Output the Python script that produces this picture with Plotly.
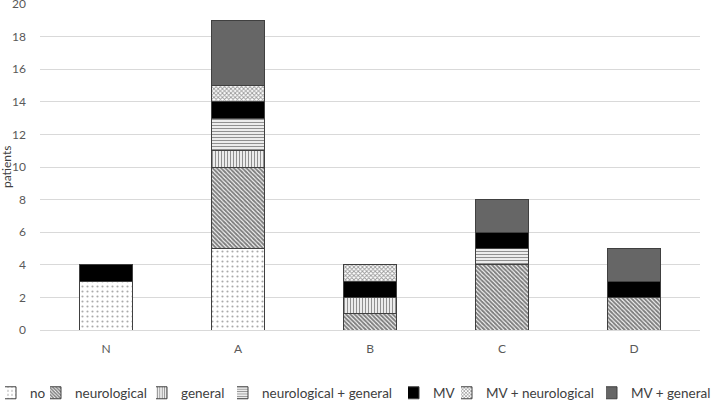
import plotly.graph_objects as go

categories = ["N", "A", "B", "C", "D"]
no = [3, 5, 0, 0, 0]
neurological = [0, 5, 1, 4, 2]
general = [0, 1, 1, 0, 0]
neuro_general = [0, 2, 0, 1, 0]
mv = [1, 1, 1, 1, 1]
mv_neuro = [0, 1, 1, 0, 0]
mv_general = [0, 4, 0, 2, 2]

# legend entry left positions (px)
legend_x = [5, 50, 156, 237, 408, 461, 606]

series = [
    ("no", no, dict(shape=".", fgcolor="#555555", bgcolor="white", size=5, solidity=0.15), "white"),
    ("neurological", neurological, dict(shape="\\", fgcolor="#000000", bgcolor="white", size=3, solidity=0.65), "white"),
    ("general", general, dict(shape="|", fgcolor="#222222", bgcolor="white", size=3, solidity=0.45), "white"),
    ("neurological + general", neuro_general, dict(shape="-", fgcolor="#222222", bgcolor="white", size=3, solidity=0.45), "white"),
    ("MV", mv, None, "black"),
    ("MV + neurological", mv_neuro, dict(shape="x", fgcolor="#333333", bgcolor="white", size=3, solidity=0.5), "white"),
    ("MV + general", mv_general, None, "#666666"),
]

W, H = 714, 400
L, R, T, B = 40, 14, 4, 70
fig = go.Figure()
legend_layout = {}
for i, (name, vals, pat, color) in enumerate(series):
    marker = dict(color=color, line=dict(color="#404040", width=1))
    if pat is not None:
        marker["pattern"] = pat
    lg = "legend" if i == 0 else f"legend{i+1}"
    fig.add_trace(go.Bar(
        name=name, x=categories, y=[v if v else None for v in vals],
        marker=marker, legend=lg,
    ))
    legend_layout[lg] = dict(
        xref="container", yref="container",
        x=legend_x[i] / W, xanchor="left",
        y=1 - 393 / H, yanchor="middle",
        bgcolor="rgba(0,0,0,0)", borderwidth=0,
        font=dict(family="Lato, sans-serif", size=13.5, color="#404040"),
        itemwidth=30, indentation=-15,
    )

fig.update_layout(
    barmode="stack",
    bargap=0.6,
    width=W, height=H,
    margin=dict(l=L, r=R, t=T, b=B, autoexpand=False),
    plot_bgcolor="white", paper_bgcolor="white",
    font=dict(family="Lato, sans-serif", size=12, color="#595959"),
    showlegend=True,
    xaxis=dict(showline=True, linecolor="#d9d9d9", ticks="", ticklabelstandoff=8,
               tickfont=dict(size=12, color="#595959")),
    yaxis=dict(range=[0, 20], dtick=2, showgrid=True, gridcolor="#d9d9d9", zeroline=False,
               ticklabeloverflow="allow", ticklabelstandoff=13,
               tickfont=dict(size=12, color="#595959")),
    annotations=[dict(
        text="patients", textangle=-90, showarrow=False,
        xref="paper", yref="paper",
        x=(6 - L) / (W - L - R), y=(H - B - 167) / (H - T - B),
        xanchor="center", yanchor="middle",
        font=dict(size=12, color="#404040"),
    )],
    **legend_layout,
)

fig.write_html("out.html", config={"displayModeBar": False},
               post_script="document.body.style.margin='0';")
